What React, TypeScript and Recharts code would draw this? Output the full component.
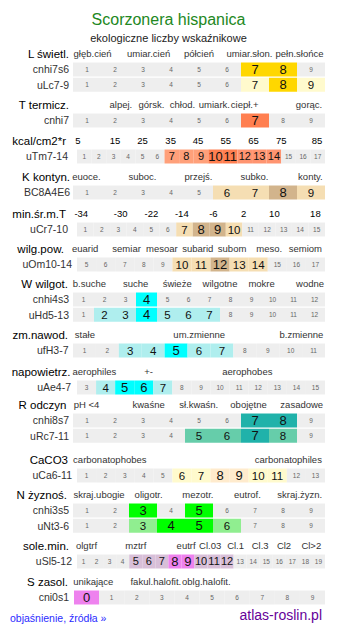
import React from 'react';
import { BarChart, Bar, XAxis, YAxis, Cell, LabelList } from 'recharts';

const FONT = '"Liberation Sans", Arial, Helvetica, sans-serif';
const GRAY = '#eeeeee';

// cell captions
const scale9 = ['1', '2', '3', '4', '5', '6', '7', '8', '9'];
const scale11 = ['1', '2', '3', '4', '5', '6', '7', '8', '9', '10', '11'];
const scale12 = ['1', '2', '3', '4', '5', '6', '7', '8', '9', '10', '11', '12'];
const scale13 = ['1', '2', '3', '4', '5', '6', '7', '8', '9', '10', '11', '12', '13'];
const scale15 = ['1', '2', '3', '4', '5', '6', '7', '8', '9', '10', '11', '12', '13', '14', '15'];
const scale17 = ['1', '2', '3', '4', '5', '6', '7', '8', '9', '10', '11', '12', '13', '14', '15', '16', '17'];
const scale19 = ['1', '2', '3', '4', '5', '6', '7', '8', '9', '10', '11', '12', '13', '14', '15', '16', '17', '18', '19'];
const scaleOm = ['5', '6', '7', '8', '9', '10', '11', '12', '13', '14', '15', '16', '17'];
const scaleAe = ['3', '4', '5', '6', '7', '8', '9', '10', '11', '12', '13', '14', '15'];
const scaleS = ['0', '1', '2', '3', '4', '5', '6', '7', '8', '9'];

// header captions + their positions (in cell units)
const lightLabels = ['głęb.cień', 'umiar.cień', 'półcień', 'umiar.słon.', 'pełn.słońce'];
const lightTicks = [0.7, 2.7, 4.5, 6.3, 8.09];
const tempLabels = ['alpej.', 'górsk.', 'chłod.', 'umiark.', 'ciepł.+', 'gorąc.'];
const tempTicks = [1.71, 2.8, 3.91, 5.05, 6.13, 8.43];
const kcalLabels = ['5', '15', '25', '35', '45', '55', '65', '75', '85'];
const kcalTicks = [0.07, 2.61, 4.49, 6.42, 8.3, 10.2, 12.1, 14.0, 16.46];
const contLabels = ['euoce.', 'suboc.', 'przejś.', 'subko.', 'konty.'];
const contTicks = [0.48, 2.48, 4.48, 6.48, 8.48];
const minLabels = ['-34', '-30', '-22', '-14', '-6', '2', '10', '18'];
const minTicks = [0.26, 2.64, 4.5, 6.34, 8.25, 10.08, 11.94, 14.42];
const wilgLabels = ['euarid', 'semiar', 'mesoar', 'subarid', 'subom', 'meso.', 'semiom'];
const wilgTicks = [0.43, 2.6, 4.45, 6.33, 8.13, 10.08, 11.97];
const wetLabels = ['b.suche', 'suche', 'świeże', 'wilgotne', 'mokre', 'wodne'];
const wetTicks = [0.78, 2.98, 4.96, 7.0, 8.98, 11.29];
const zmLabels = ['stałe', 'um.zmienne', 'b.zmienne'];
const zmTicks = [0.52, 5.51, 9.97];
const aerLabels = ['aerophiles', '+-', 'aerophobes'];
const aerTicks = [0.91, 3.75, 8.93];
const phLabels = ['pH <4', 'kwaśne', 'sł.kwaśn.', 'obojętne', 'zasadowe'];
const phTicks = [0.48, 2.7, 4.49, 6.27, 8.17];
const caLabels = ['carbonatophobes', 'carbonatophiles'];
const caTicks = [1.72, 11.08];
const nLabels = ['skraj.ubogie', 'oligotr.', 'mezotr.', 'eutrof.', 'skraj.żyzn.'];
const nTicks = [0.93, 2.7, 4.46, 6.23, 8.1];
const solLabels = ['olgtrf', 'mztrf', 'eutrf', 'Cl.03', 'Cl.1', 'Cl.3', 'Cl2', 'Cl>2'];
const solTicks = [0.73, 4.51, 8.36, 10.2, 12.15, 14.03, 15.86, 17.95];
const salLabels = ['unikające', 'fakul.halofit.', 'oblg.halofit.'];
const salTicks = [0.77, 3.26, 5.27];

// row names and cell levels (0 = none, 1 = range, 2 = optimum, 3 = range upper part)
const lightRows = ['cnhi7s6', 'uLc7-9'];
const lightLevels = [[0, 0, 0, 0, 0, 0, 2, 2, 0], [0, 0, 0, 0, 0, 0, 1, 2, 1]];
const tempRows = ['cnhi7'];
const tempLevels = [[0, 0, 0, 0, 0, 0, 2, 0, 0]];
const kcalRows = ['uTm7-14'];
const kcalLevels = [[0, 0, 0, 0, 0, 0, 1, 1, 1, 2, 2, 3, 3, 3, 0, 0, 0]];
const contRows = ['BC8A4E6'];
const contLevels = [[0, 0, 0, 0, 0, 1, 1, 2, 1]];
const minRows = ['uCr7-10'];
const minLevels = [[0, 0, 0, 0, 0, 0, 1, 2, 2, 1, 0, 0, 0, 0, 0]];
const wilgRows = ['uOm10-14'];
const wilgLevels = [[0, 0, 0, 0, 0, 1, 1, 2, 1, 1, 0, 0, 0]];
const wetRows = ['cnhi4s3', 'uHd5-13'];
const wetLevels = [[0, 0, 0, 2, 0, 0, 0, 0, 0, 0, 0, 0], [0, 1, 1, 2, 1, 1, 1, 0, 0, 0, 0, 0]];
const zmRows = ['ufH3-7'];
const zmLevels = [[0, 0, 1, 1, 2, 1, 1, 0, 0, 0, 0]];
const aerRows = ['uAe4-7'];
const aerLevels = [[0, 1, 2, 2, 1, 0, 0, 0, 0, 0, 0, 0, 0]];
const phRows = ['cnhi8s7', 'uRc7-11'];
const phLevels = [[0, 0, 0, 0, 0, 0, 2, 2, 0], [0, 0, 0, 0, 1, 1, 2, 1, 0]];
const caRows = ['uCa6-11'];
const caLevels = [[0, 0, 0, 0, 0, 1, 1, 2, 2, 1, 1, 0, 0]];
const nRows = ['cnhi3s5', 'uNt3-6'];
const nLevels = [[0, 0, 2, 0, 2, 0, 0, 0, 0], [0, 0, 1, 2, 2, 1, 0, 0, 0]];
const solRows = ['uSl5-12'];
const solLevels = [[0, 0, 0, 0, 1, 1, 1, 2, 2, 1, 1, 1, 0, 0, 0, 0, 0, 0, 0]];
const salRows = ['cni0s1'];
const salLevels = [[2, 0, 0, 0, 0, 0, 0, 0, 0, 0]];

const pYellow = [GRAY, '#fffacd', '#ffd700'];
const pRed = [GRAY, '#ffa07a', '#ff7f50', '#ff9470'];
const pTan = [GRAY, '#f5deb3', '#d2b48c'];
const pCyan = [GRAY, '#afeeee', '#00ffff'];
const pSea = [GRAY, '#66cdaa', '#20b2aa'];
const pCa = [GRAY, '#fffacd', '#ffebcd'];
const pGreen = [GRAY, '#90ee90', '#00ff00'];
const pViolet = [GRAY, '#d8bfd8', '#ee82ee'];

const sections = [
  { title: 'L świetl.', labels: lightLabels, ticks: lightTicks, cells: scale9, rows: lightRows, levels: lightLevels, palette: pYellow, top: 38, left: 65, rowEnd: 61, titleEnd: 61 },
  { title: 'T termicz.', labels: tempLabels, ticks: tempTicks, cells: scale9, rows: tempRows, levels: tempLevels, palette: pRed, top: 89, left: 65, rowEnd: 61, titleEnd: 61 },
  { title: 'kcal/cm2*r', labels: kcalLabels, ticks: kcalTicks, cells: scale17, rows: kcalRows, levels: kcalLevels, palette: pRed, top: 125, left: 69, rowEnd: 60, titleEnd: 58, numeric: true },
  { title: 'K kontyn.', labels: contLabels, ticks: contTicks, cells: scale9, rows: contRows, levels: contLevels, palette: pTan, top: 161, left: 65, rowEnd: 62, titleEnd: 62 },
  { title: 'min.śr.m.T', labels: minLabels, ticks: minTicks, cells: scale15, rows: minRows, levels: minLevels, palette: pTan, top: 198, left: 69, rowEnd: 60, titleEnd: 58, numeric: true },
  { title: 'wilg.pow.', labels: wilgLabels, ticks: wilgTicks, cells: scaleOm, rows: wilgRows, levels: wilgLevels, palette: pTan, top: 233, left: 69, rowEnd: 64, titleEnd: 56 },
  { title: 'W wilgot.', labels: wetLabels, ticks: wetTicks, cells: scale12, rows: wetRows, levels: wetLevels, palette: pCyan, top: 268, left: 65, rowEnd: 61, titleEnd: 60 },
  { title: 'zm.nawod.', labels: zmLabels, ticks: zmTicks, cells: scale11, rows: zmRows, levels: zmLevels, palette: pCyan, top: 319, left: 65, rowEnd: 60.5, titleEnd: 60 },
  { title: 'napowietrz.', labels: aerLabels, ticks: aerTicks, cells: scaleAe, rows: aerRows, levels: aerLevels, palette: pCyan, top: 356, left: 69, rowEnd: 63, titleEnd: 62.5 },
  { title: 'R odczyn', labels: phLabels, ticks: phTicks, cells: scale9, rows: phRows, levels: phLevels, palette: pSea, top: 389, left: 65, rowEnd: 61, titleEnd: 58.5 },
  { title: 'CaCO3', labels: caLabels, ticks: caTicks, cells: scale13, rows: caRows, levels: caLevels, palette: pCa, top: 444, left: 69, rowEnd: 64, titleEnd: 60 },
  { title: 'N żyznoś.', labels: nLabels, ticks: nTicks, cells: scale9, rows: nRows, levels: nLevels, palette: pGreen, top: 479, left: 65, rowEnd: 61, titleEnd: 59 },
  { title: 'sole.min.', labels: solLabels, ticks: solTicks, cells: scale19, rows: solRows, levels: solLevels, palette: pViolet, top: 530, left: 69, rowEnd: 64, titleEnd: 61 },
  { title: 'S zasol.', labels: salLabels, ticks: salTicks, cells: scaleS, rows: salRows, levels: salLevels, palette: pViolet, top: 566, left: 66, rowEnd: 61, titleEnd: 60 },
];

const CHART_W = 321;
const PLOT_RIGHT = 317;
const HEAD_H = 16;
const ROW_H = 15.25;

const Section = ({ sec }: any) => {
  const n = sec.cells.length;
  const narrow = n >= 17;
  const data = sec.rows.map((name: string) => {
    const o: any = { name };
    sec.cells.forEach((_: string, i: number) => { o['c' + i] = 1; });
    return o;
  });

  const numLabel = (i: number) => (p: any) => {
    const vb = p.viewBox || p;
    const lvl = sec.levels[p.index]?.[i] ?? 0;
    const fs = lvl === 0 ? 6.5 : lvl === 2 ? 13 : narrow ? 11 : 11.5;
    return (
      <text
        x={vb.x + vb.width / 2}
        y={vb.y + vb.height / 2 + fs * 0.36}
        textAnchor="middle"
        fontSize={fs}
        fill={lvl === 0 ? '#666' : '#111'}
      >
        {sec.cells[i]}
      </text>
    );
  };

  return (
    <div style={{ position: 'absolute', top: sec.top, left: 0 }}>
      <BarChart
        layout="vertical"
        width={CHART_W}
        height={HEAD_H + ROW_H * sec.rows.length}
        data={data}
        margin={{ top: 0, right: CHART_W - PLOT_RIGHT, bottom: 0, left: 0 }}
        barCategoryGap={0.5}
      >
        <XAxis
          type="number"
          orientation="top"
          domain={[0, n]}
          ticks={sec.ticks}
          interval={0}
          tickFormatter={(_v: number, i: number) => sec.labels[i]}
          axisLine={false}
          tickLine={false}
          tickSize={0}
          tickMargin={5}
          height={HEAD_H}
          tick={{ fontSize: 9.5, fill: sec.numeric ? '#000' : '#333' }}
          label={{ value: sec.title, position: 'left', offset: sec.left - sec.titleEnd, fontSize: 11.5, fill: '#000' }}
        />
        <YAxis
          type="category"
          dataKey="name"
          width={sec.left}
          interval={0}
          axisLine={false}
          tickLine={false}
          tickSize={0}
          tickMargin={sec.left - sec.rowEnd}
          tick={{ fontSize: 10.5, fill: '#333' }}
        />
        {sec.cells.map((_c: string, i: number) => (
          <Bar key={i} dataKey={'c' + i} stackId="s" isAnimationActive={false}>
            {sec.rows.map((_r: string, j: number) => (
              <Cell key={j} fill={sec.palette[sec.levels[j][i]]} />
            ))}
            <LabelList dataKey={'c' + i} content={numLabel(i)} />
          </Bar>
        ))}
      </BarChart>
    </div>
  );
};

export default function App() {
  return (
    <div style={{ position: 'relative', width: CHART_W, height: 626, fontFamily: FONT }}>
      <div style={{ position: 'absolute', top: 3, left: 0, width: CHART_W, textAlign: 'center', fontSize: 16, lineHeight: '18px', color: '#228822' }}>
        Scorzonera hispanica
      </div>
      <div style={{ position: 'absolute', top: 23, left: 0, width: CHART_W, textAlign: 'center', fontSize: 11, lineHeight: '14px', color: '#222' }}>
        ekologiczne liczby wskaźnikowe
      </div>
      {sections.map((s) => <Section key={s.title} sec={s} />)}
      <div style={{ position: 'absolute', top: 603, left: 2, fontSize: 10.5, lineHeight: '14px', color: '#2b2bff' }}>
        objaśnienie, źródła »
      </div>
      <div style={{ position: 'absolute', top: 598, right: 7, fontSize: 14, lineHeight: '18px', color: '#660099' }}>
        atlas-roslin.pl
      </div>
    </div>
  );
}
